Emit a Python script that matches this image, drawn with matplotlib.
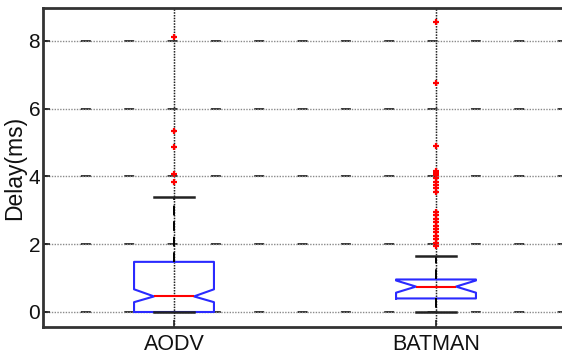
import matplotlib
matplotlib.use("Agg")
import matplotlib.pyplot as plt
from matplotlib import font_manager as fm

categories = ["AODV", "BATMAN"]
medians = [0.46, 0.75]
q1s = [0.0, 0.40]
q3s = [1.48, 0.96]
whislos = [0.0, 0.0]
whishis = [3.38, 1.64]
ci_low = [0.29, 0.57]
ci_high = [0.67, 0.93]
fliers_aodv = [8.12, 5.33, 4.88, 4.07, 3.85]
fliers_batman = [8.55, 6.75, 4.90, 4.15, 4.10, 4.05, 3.95, 3.85, 3.75, 3.65,
                 3.55, 2.95, 2.85, 2.75, 2.65, 2.55, 2.45, 2.35, 2.25, 2.15,
                 2.05, 1.95]
yticks = [0, 2, 4, 6, 8]
ylabel = "Delay(ms)"

names = {f.name for f in fm.fontManager.ttflist}
narrow = "Liberation Sans Narrow" if "Liberation Sans Narrow" in names else "Liberation Sans"
xfs = 17 if narrow == "Liberation Sans Narrow" else 15.5

fig = plt.figure(figsize=(5.62, 3.62), dpi=100)
ax = fig.add_axes([43/562, 35/362, 524/562, 319/362])

stats = []
fl = [fliers_aodv, fliers_batman]
for i, c in enumerate(categories):
    stats.append(dict(label=c, med=medians[i], q1=q1s[i], q3=q3s[i],
                      whislo=whislos[i], whishi=whishis[i],
                      cilo=ci_low[i], cihi=ci_high[i], fliers=fl[i]))

ax.set_xlim(0.5, 2.5)
ax.set_ylim(-0.443, 8.974)
ax.set_yticks(yticks)

# grid: gray dotted + black dashes
ax.grid(True, color="#8a8a8a", linestyle=(0, (1, 1)), linewidth=1.0, zorder=0)
ax.set_axisbelow(True)
for y in yticks:
    ax.axhline(y, color="#222222", linestyle=(3, (5.5, 18.5)), linewidth=1.3, zorder=0.5)

ax.bxp(stats, positions=[1, 2], widths=0.305, capwidths=0.15, shownotches=True,
       boxprops=dict(color="#2a2aff", linewidth=1.5),
       medianprops=dict(color="red", linewidth=1.5),
       whiskerprops=dict(color="black", linestyle=(0, (5, 3)), linewidth=1.4),
       capprops=dict(color="#222222", linewidth=1.8),
       flierprops=dict(marker="+", markeredgecolor="red", markersize=4.5,
                       markeredgewidth=1.6, linestyle="none"),
       zorder=3)

for x in [1, 2]:
    ax.axvline(x, color="#222222", linestyle=(0, (1, 1)), linewidth=1.0, zorder=0.6)

for s in ["left", "top", "bottom"]:
    ax.spines[s].set_linewidth(2.0)
    ax.spines[s].set_color("#333333")
ax.spines["right"].set_visible(False)

ax.tick_params(axis="both", direction="in", length=5, width=1.2, color="#222222")
ax.tick_params(axis="y", pad=2)
ax.tick_params(axis="x", pad=5)
ax.set_xticks([1, 2])
ax.set_xticklabels(categories, fontsize=xfs, family=narrow, color="#111111")
for lab in ax.get_yticklabels():
    lab.set_fontsize(15)
    lab.set_family("Liberation Sans")
    lab.set_color("#111111")
ax.set_ylabel(ylabel, fontsize=16.5, family="Liberation Sans", color="#111111", labelpad=2)

fig.savefig("out.png", dpi=100)
